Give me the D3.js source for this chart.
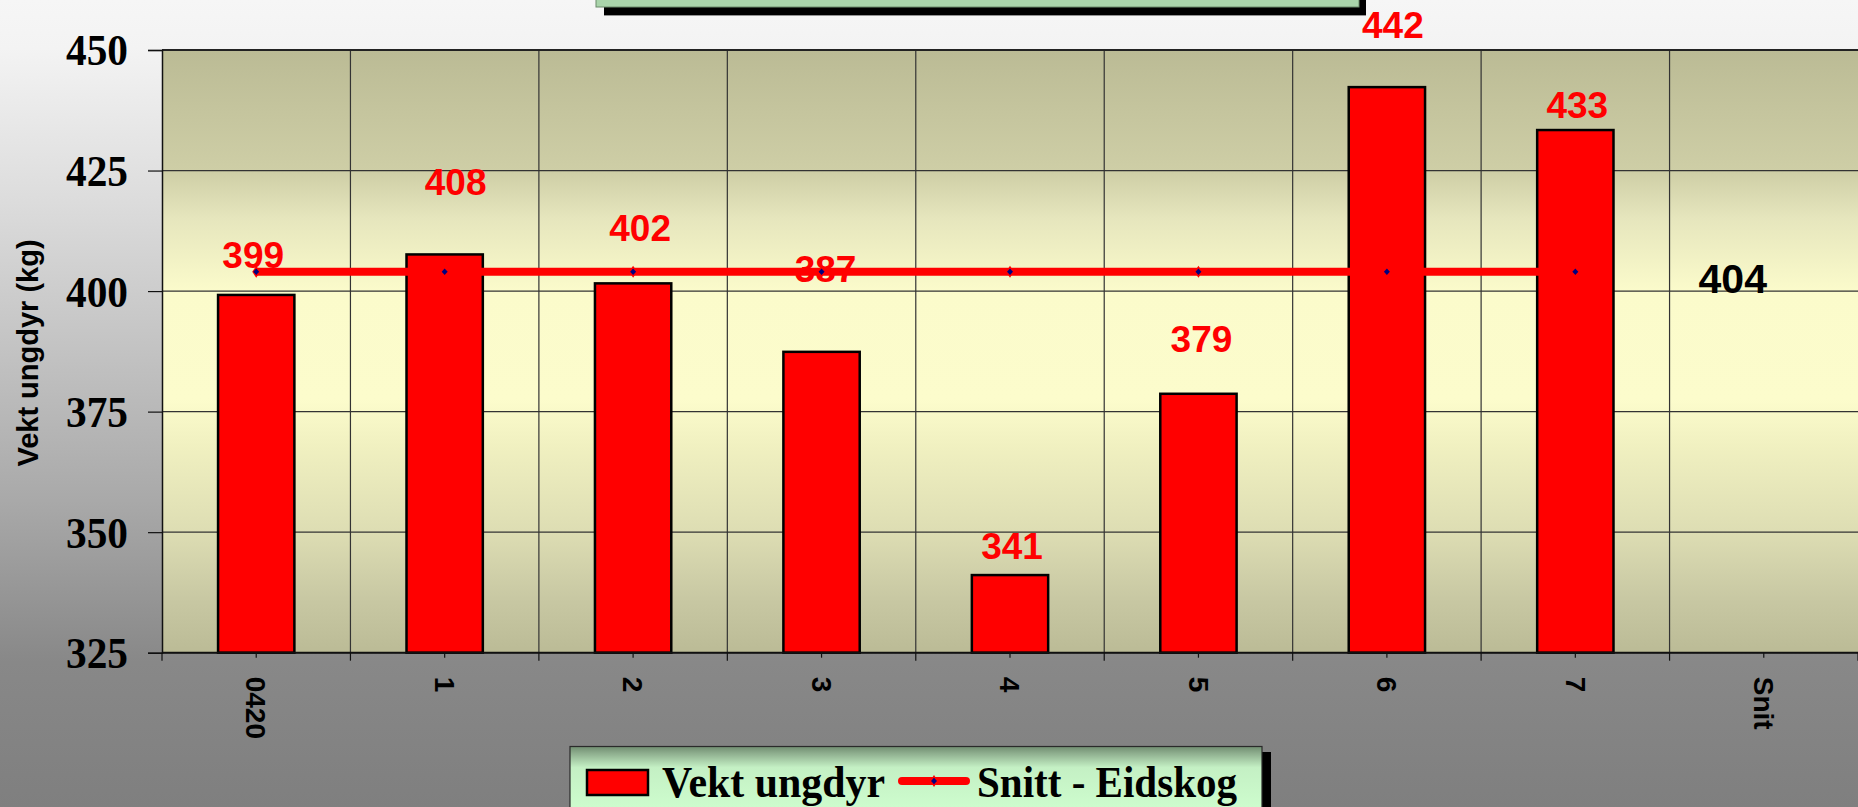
<!DOCTYPE html>
<html>
<head>
<meta charset="utf-8">
<script src="https://cdn.jsdelivr.net/npm/d3@7"></script>
<style>
  html, body { margin: 0; padding: 0; overflow: hidden; background: #ffffff; }
  svg { display: block; }
</style>
</head>
<body>
<svg id="chart" width="1858" height="807"></svg>
<script>
// ---- data ----
const categories = ["0420", "1", "2", "3", "4", "5", "6", "7", "Snit"];
const vektUngdyr = [399.2, 407.6, 401.6, 387.4, 341.1, 378.7, 442.3, 433.4];
const snittEidskog = [404, 404, 404, 404, 404, 404, 404, 404];
const snittValue = 404;
const yTicks = [325, 350, 375, 400, 425, 450];
const seriesNames = ["Vekt ungdyr", "Snitt - Eidskog"];
const yTitle = "Vekt ungdyr (kg)";

// ---- layout (label nudges, pixels) ----
const labelDy = [27, 59, 42, 70, 16, 42, 49, 12];
const labelDx = [-3, 11, 7, 4, 2, 3, 6, 2];

const W = 1858, H = 807;
const svg = d3.select("#chart");
const defs = svg.append("defs");

// page background gradient
const bg = defs.append("linearGradient").attr("id", "pageBg")
  .attr("x1", 0).attr("y1", 0).attr("x2", 0).attr("y2", 1);
[[0, "#f6f6f6"], [0.06, "#f3f3f3"], [0.25, "#dcdcdc"], [0.62, "#a9a9a9"], [0.82, "#888888"], [1, "#7f7f7f"]]
  .forEach(([o, c]) => bg.append("stop").attr("offset", o).attr("stop-color", c));

// plot background gradient
const pg = defs.append("linearGradient").attr("id", "plotBg")
  .attr("x1", 0).attr("y1", 0).attr("x2", 0).attr("y2", 1);
[[0, "#bbbb95"], [0.2, "#cecea6"], [0.28, "#e6e6bd"], [0.4, "#fbfbcb"], [0.58, "#fcfccc"],
 [0.66, "#f0f0c0"], [0.8, "#ddddb3"], [0.91, "#c8c8a3"], [1, "#bbbb96"]]
  .forEach(([o, c]) => pg.append("stop").attr("offset", o).attr("stop-color", c));

// legend gradient
const lg = defs.append("linearGradient").attr("id", "legBg")
  .attr("gradientUnits", "userSpaceOnUse").attr("x1", 0).attr("y1", 746).attr("x2", 0).attr("y2", 807);
[[0, "#6e8a6e"], [0.12, "#8eae8e"], [0.35, "#c4f0c4"], [1, "#cdfccd"]]
  .forEach(([o, c]) => lg.append("stop").attr("offset", o).attr("stop-color", c));

svg.append("rect").attr("width", W).attr("height", H).attr("fill", "url(#pageBg)");

// ---- scales ----
const plotL = 162, plotR = 1858, plotT = 50, plotB = 652.7;
const x = d3.scaleBand().domain(categories).range([plotL, plotR]).padding(0);
const y = d3.scaleLinear().domain([325, 450]).range([plotB, plotT]);
const bw = x.bandwidth();
const barW = bw * 0.405;

// title box (clipped at top)
svg.append("rect").attr("x", 604).attr("y", -60).attr("width", 762).attr("height", 75.4).attr("fill", "#000");
svg.append("rect").attr("x", 596).attr("y", -60).attr("width", 763).attr("height", 67)
  .attr("fill", "#a9d4aa").attr("stroke", "#6b8a6b").attr("stroke-width", 1);

// plot background
svg.append("rect").attr("x", plotL).attr("y", plotT).attr("width", plotR - plotL).attr("height", plotB - plotT)
  .attr("fill", "url(#plotBg)");

// gridlines
const grid = svg.append("g");
grid.selectAll("line.h").data(yTicks).join("line")
  .attr("x1", plotL).attr("x2", plotR).attr("y1", d => y(d)).attr("y2", d => y(d))
  .attr("stroke", "#333").attr("stroke-width", 1.2);
const bounds = categories.map(c => x(c)).slice(1);
grid.selectAll("line.v").data(bounds).join("line")
  .attr("x1", d => d).attr("x2", d => d).attr("y1", plotT).attr("y2", plotB)
  .attr("stroke", "#333").attr("stroke-width", 1.2);
// top border
svg.append("line").attr("x1", plotL).attr("x2", plotR).attr("y1", plotT).attr("y2", plotT)
  .attr("stroke", "#222").attr("stroke-width", 2);

// ---- y axis ----
const yAxis = d3.axisLeft(y).tickValues(yTicks).tickSize(14).tickPadding(20).tickFormat(d3.format("d"));
const yg = svg.append("g").attr("transform", `translate(${plotL},0)`).call(yAxis);
yg.select(".domain").attr("stroke", "#111").attr("stroke-width", 1.5);
yg.selectAll(".tick line").attr("stroke", "#111").attr("stroke-width", 1.2);
yg.selectAll(".tick text")
  .attr("font-family", "'Liberation Serif', 'Times New Roman', serif")
  .attr("font-weight", "bold").attr("font-size", 44).attr("fill", "#000")
  .attr("dy", "0.34em").attr("textLength", 62).attr("lengthAdjust", "spacingAndGlyphs");

// y title
svg.append("text")
  .attr("transform", `translate(38, 353) rotate(-90)`)
  .attr("text-anchor", "middle")
  .attr("font-family", "'Liberation Sans', Arial, sans-serif")
  .attr("font-weight", "bold").attr("font-size", 29).attr("fill", "#000")
  .text(yTitle);

// ---- bars ----
const bars = svg.append("g");
bars.selectAll("rect").data(vektUngdyr).join("rect")
  .attr("x", (d, i) => x(categories[i]) + bw / 2 - barW / 2)
  .attr("y", d => y(d))
  .attr("width", barW)
  .attr("height", d => y(325) - y(d))
  .attr("fill", "#ff0000").attr("stroke", "#000").attr("stroke-width", 2.5);

// ---- x axis ----
const xAxis = d3.axisBottom(x).tickSize(5).tickPadding(0).tickFormat(d => d);
const xg = svg.append("g").attr("transform", `translate(0,${plotB})`).call(xAxis);
xg.select(".domain").remove();
xg.selectAll(".tick line").attr("stroke", "#111").attr("stroke-width", 1.2);
xg.selectAll(".tick text")
  .attr("font-family", "'Liberation Sans', Arial, sans-serif")
  .attr("font-weight", "bold").attr("font-size", 28).attr("fill", "#000")
  .attr("text-anchor", "start")
  .attr("transform", "translate(0,24) rotate(90)")
  .attr("x", 0).attr("y", 0).attr("dy", "0.35em");
// boundary ticks
svg.append("g").selectAll("line").data(categories.map(c => x(c)).concat([plotR])).join("line")
  .attr("x1", d => d).attr("x2", d => d).attr("y1", plotB).attr("y2", plotB + 8)
  .attr("stroke", "#111").attr("stroke-width", 1.2);
svg.append("line").attr("x1", plotL).attr("x2", plotR).attr("y1", plotB).attr("y2", plotB)
  .attr("stroke", "#111").attr("stroke-width", 2);

// ---- data labels ----
svg.append("g").selectAll("text").data(vektUngdyr).join("text")
  .attr("x", (d, i) => x(categories[i]) + bw / 2 + labelDx[i])
  .attr("y", (d, i) => y(d) - labelDy[i])
  .attr("text-anchor", "middle")
  .attr("font-family", "'Liberation Sans', Arial, sans-serif")
  .attr("font-weight", "bold").attr("font-size", 37).attr("fill", "#ff0000")
  .text(d => d3.format(".0f")(d));

// ---- average line ----
const line = d3.line().x((d, i) => x(categories[i]) + bw / 2).y(d => y(d));
svg.append("path").datum(snittEidskog).attr("d", line)
  .attr("fill", "none").attr("stroke", "#ff0000").attr("stroke-width", 8);
const diamond = (hw, hh) => `M0,${-hh}L${hw},0L0,${hh}L${-hw},0Z`;
const mk = svg.append("g").selectAll("g").data(snittEidskog).join("g")
  .attr("transform", (d, i) => `translate(${x(categories[i]) + bw / 2},${y(d)})`);
mk.append("path").attr("d", diamond(4, 6)).attr("fill", "#ff0000");
mk.append("path").attr("d", diamond(3, 3.2)).attr("fill", "#000080");

// average label
svg.append("text")
  .attr("x", x("Snit") + bw / 2 - 31).attr("y", y(snittValue) + 21)
  .attr("text-anchor", "middle")
  .attr("font-family", "'Liberation Sans', Arial, sans-serif")
  .attr("font-weight", "bold").attr("font-size", 41).attr("fill", "#000")
  .text(d3.format("d")(snittValue));

// ---- legend ----
const leg = svg.append("g");
leg.append("rect").attr("x", 579).attr("y", 752).attr("width", 692).attr("height", 80).attr("fill", "#000");
leg.append("rect").attr("x", 570).attr("y", 746.5).attr("width", 692).attr("height", 80)
  .attr("fill", "url(#legBg)").attr("stroke", "#2a2a2a").attr("stroke-width", 1.2);
leg.append("rect").attr("x", 587).attr("y", 770).attr("width", 61).attr("height", 25)
  .attr("fill", "#ff0000").attr("stroke", "#000").attr("stroke-width", 2.5);
leg.append("text").attr("x", 662).attr("y", 797)
  .attr("font-family", "'Liberation Serif', 'Times New Roman', serif")
  .attr("font-weight", "bold").attr("font-size", 45).attr("fill", "#000")
  .attr("textLength", 223).attr("lengthAdjust", "spacingAndGlyphs")
  .text(seriesNames[0]);
leg.append("line").attr("x1", 902).attr("x2", 966).attr("y1", 781).attr("y2", 781)
  .attr("stroke", "#ff0000").attr("stroke-width", 8).attr("stroke-linecap", "round");
leg.append("path").attr("transform", "translate(934,781)").attr("d", diamond(4, 6)).attr("fill", "#ff0000");
leg.append("path").attr("transform", "translate(934,781)").attr("d", diamond(3, 3.2)).attr("fill", "#000080");
leg.append("text").attr("x", 977).attr("y", 797)
  .attr("font-family", "'Liberation Serif', 'Times New Roman', serif")
  .attr("font-weight", "bold").attr("font-size", 45).attr("fill", "#000")
  .attr("textLength", 260).attr("lengthAdjust", "spacingAndGlyphs")
  .text(seriesNames[1]);
</script>
</body>
</html>
